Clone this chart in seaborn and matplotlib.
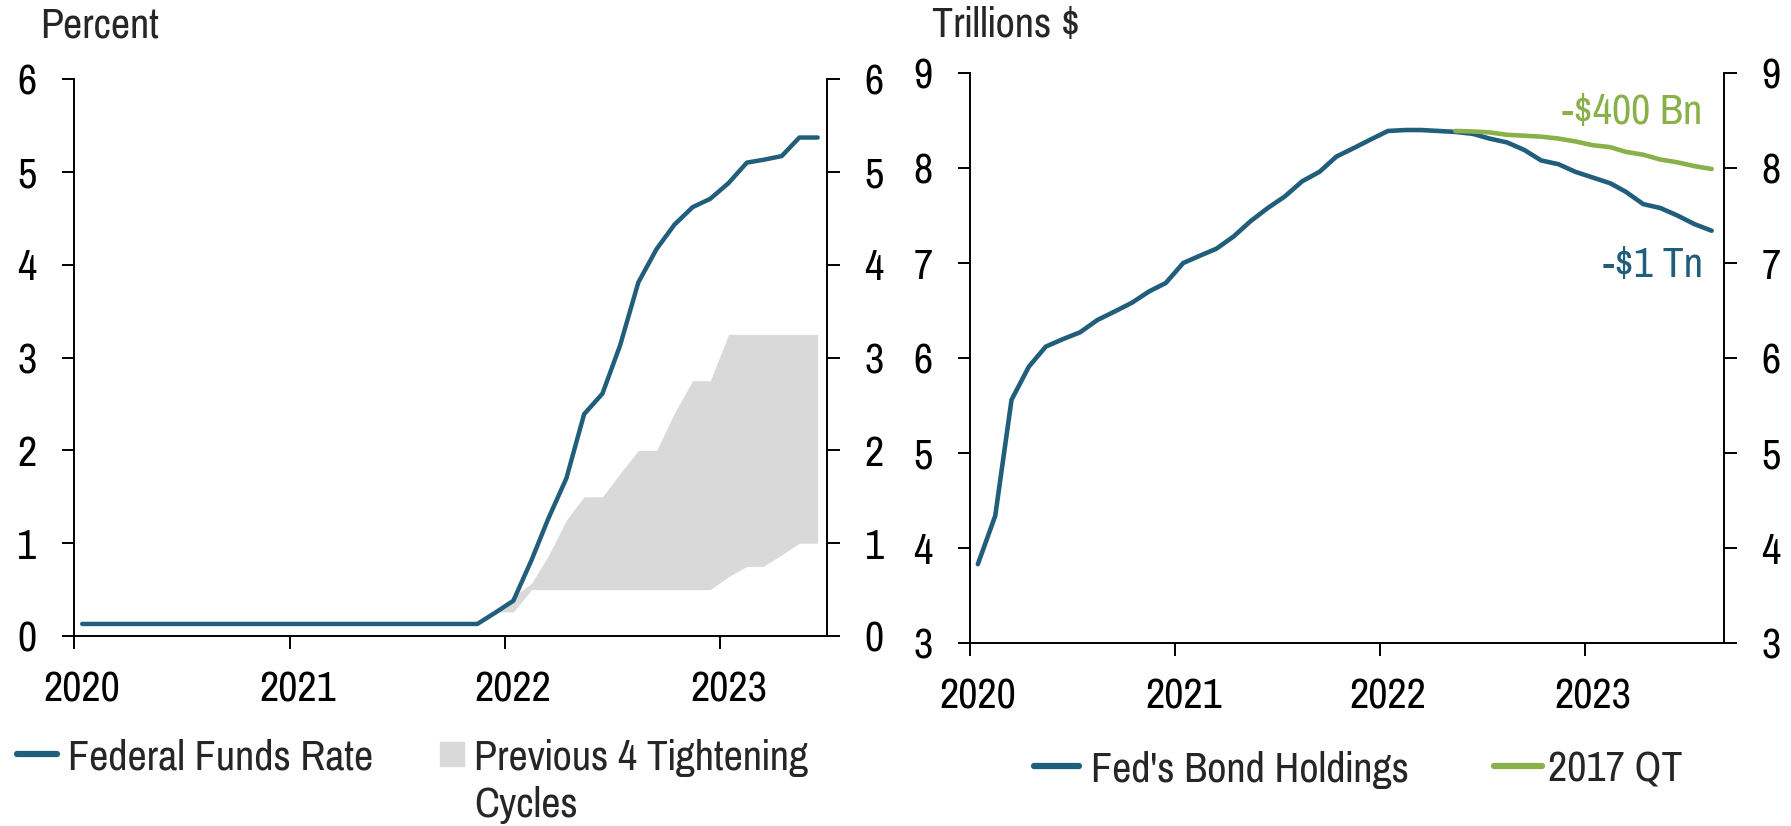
import matplotlib
matplotlib.use("Agg")
import numpy as np
import pandas as pd
import matplotlib.pyplot as plt
from matplotlib.lines import Line2D
from matplotlib.transforms import ScaledTranslation
from matplotlib import font_manager
import seaborn as sns

# ---------------- data ----------------
# Federal funds rate, monthly Jan 2020 - Jun 2023 (percent)
ffr_values = [
    0.13, 0.13, 0.13, 0.13, 0.13, 0.13, 0.13, 0.13, 0.13, 0.13, 0.13, 0.13,
    0.13, 0.13, 0.13, 0.13, 0.13, 0.13, 0.13, 0.13, 0.13, 0.13, 0.13, 0.25,
    0.38, 0.82, 1.26, 1.70, 2.39, 2.61, 3.13, 3.81, 4.17, 4.43, 4.62, 4.71,
    4.88, 5.10, 5.13, 5.17, 5.37, 5.37,
]
# Range of the previous four tightening cycles, Dec 2021 - Jun 2023 (percent)
cycles_low = [0.26, 0.26, 0.50, 0.50, 0.50, 0.50, 0.50, 0.50, 0.50, 0.50,
              0.50, 0.50, 0.50, 0.64, 0.75, 0.75, 0.875, 1.00, 1.00]
cycles_high = [0.26, 0.42, 0.57, 0.86, 1.25, 1.50, 1.50, 1.75, 2.00, 2.00,
               2.40, 2.75, 2.75, 3.25, 3.25, 3.25, 3.25, 3.25, 3.25]

# Fed's bond holdings, monthly Jan 2020 - Aug 2023 (trillions $)
holdings_values = [
    3.83, 4.34, 5.56, 5.91, 6.12, 6.20, 6.27, 6.40, 6.49, 6.58, 6.70, 6.79,
    7.00, 7.08, 7.15, 7.28, 7.44, 7.58, 7.70, 7.86, 7.96, 8.12, 8.21, 8.30,
    8.39, 8.40, 8.40, 8.39, 8.38, 8.36, 8.31, 8.27, 8.19, 8.08, 8.04, 7.96,
    7.90, 7.84, 7.75, 7.62, 7.58, 7.50, 7.41, 7.34,
]
# 2017 QT pace applied from May 2022 - Aug 2023 (trillions $)
qt2017_values = [8.39, 8.385, 8.375, 8.35, 8.34, 8.33, 8.31, 8.28,
                 8.24, 8.22, 8.17, 8.14, 8.09, 8.06, 8.02, 7.99]

year_ticks = [2020, 2021, 2022, 2023]
label_400bn = "-\\$400 Bn"
label_1tn = "-\\$1 Tn"

# ---------------- frames ----------------
def monthly(start, n):
    return pd.date_range(start, periods=n, freq="MS") + pd.Timedelta(days=14)

ffr = pd.DataFrame({"date": monthly("2020-01-01", len(ffr_values)), "rate": ffr_values})
cycles = pd.DataFrame({"date": monthly("2021-12-01", len(cycles_low)),
                       "low": cycles_low, "high": cycles_high})
holdings = pd.DataFrame({"date": monthly("2020-01-01", len(holdings_values)),
                         "value": holdings_values})
qt2017 = pd.DataFrame({"date": monthly("2022-05-01", len(qt2017_values)),
                       "value": qt2017_values})

# ---------------- style ----------------
BLUE = "#215E7C"
GREEN = "#8AB04A"
GRAY = "#D9D9D9"

sns.set_theme(style="ticks")
available = {f.name for f in font_manager.fontManager.ttflist}
narrow_choices = ["Liberation Sans Narrow", "Arial Narrow", "Pragati Narrow",
                  "Roboto Condensed", "Archivo Narrow", "PT Sans Narrow",
                  "Liberation Sans"]
base_font = next(f for f in narrow_choices if f in available)
FS = 33 if base_font != "Liberation Sans" else 25
plt.rcParams["font.family"] = [base_font, "DejaVu Sans"]
plt.rcParams["axes.linewidth"] = 1.4
plt.rcParams["axes.edgecolor"] = "black"

fig = plt.figure(figsize=(17.91, 8.26), dpi=100)
ax1 = fig.add_axes([0.0413, 0.2300, 0.4205, 0.6743])
ax2 = fig.add_axes([0.5416, 0.2215, 0.4210, 0.6901])


def style_axis(ax, ylim, yticks, xlim):
    ax.set_ylim(*ylim)
    ax.set_yticks(yticks)
    ax.set_xlim(pd.Timestamp(xlim[0]), pd.Timestamp(xlim[1]))
    ax.set_xticks([pd.Timestamp(f"{y}-01-01") for y in year_ticks])
    ax.set_xticklabels([str(y) for y in year_ticks])
    ax.set_xlabel("")
    ax.set_ylabel("")
    for side in ["left", "right", "bottom"]:
        ax.spines[side].set_visible(True)
        ax.spines[side].set_linewidth(1.4)
        ax.spines[side].set_color("black")
    ax.spines["top"].set_visible(False)
    ax.tick_params(axis="y", left=True, right=True, labelleft=True, labelright=True,
                   direction="out", length=9, width=1.4, pad=18, labelsize=FS,
                   colors="black")
    ax.tick_params(axis="x", bottom=True, direction="out", length=9, width=1.4,
                   pad=16, labelsize=FS, colors="black")
    shift = ScaledTranslation(8 / 100, 0, fig.dpi_scale_trans)
    for lab in ax.get_xticklabels():
        lab.set_transform(lab.get_transform() + shift)
    ax.grid(False)
    ax.set_facecolor("white")


# ---------------- left panel: policy rate ----------------
ax1.fill_between(cycles["date"], cycles["low"], cycles["high"], color=GRAY,
                 linewidth=0, zorder=1)
sns.lineplot(data=ffr, x="date", y="rate", ax=ax1, color=BLUE, linewidth=3.2,
             solid_capstyle="round", zorder=3, legend=False)
style_axis(ax1, (0, 6), [0, 1, 2, 3, 4, 5, 6], ("2020-01-01", "2023-07-01"))
fig.text(40 / 1791, 1 - 25 / 826, "Percent", fontsize=FS, va="center", ha="left")

# ---------------- right panel: balance sheet ----------------
sns.lineplot(data=holdings, x="date", y="value", ax=ax2, color=BLUE, linewidth=3.3,
             solid_capstyle="round", zorder=3, legend=False)
sns.lineplot(data=qt2017, x="date", y="value", ax=ax2, color=GREEN, linewidth=3.3,
             solid_capstyle="round", zorder=4, legend=False)
style_axis(ax2, (3, 9), [3, 4, 5, 6, 7, 8, 9], ("2020-01-01", "2023-09-06"))
fig.text(932 / 1791, 1 - 25 / 826, "Trillions \\$", fontsize=FS, va="center", ha="left")

last = holdings["date"].iloc[-1]
ax2.annotate(label_400bn, xy=(last, 8.59), xytext=(-6.5, 0), textcoords="offset points",
             ha="right", va="center", color=GREEN, fontsize=FS)
ax2.annotate(label_1tn, xy=(last, 6.98), xytext=(-6.5, 0), textcoords="offset points",
             ha="right", va="center", color=BLUE, fontsize=FS)

# ---------------- legends ----------------
def legend_entry(handle, label, x_px, y_px, hlen_px, pad_px):
    em = FS * 100 / 72
    leg = fig.legend([handle], [label], loc="center left",
                     bbox_to_anchor=(x_px / 1791, 1 - y_px / 826),
                     frameon=False, fontsize=FS, borderpad=0, borderaxespad=0,
                     handlelength=hlen_px / em, handletextpad=pad_px / em)
    return leg

line_blue = Line2D([], [], color=BLUE, lw=4.5, solid_capstyle="round")
line_green = Line2D([], [], color=GREEN, lw=4.5, solid_capstyle="round")
square_gray = Line2D([], [], color=GRAY, marker="s", ls="", markersize=17)

legend_entry(line_blue, "Federal Funds Rate", 17, 757, 40, 11)
legend_entry(square_gray, "Previous 4 Tightening", 432, 757, 40, 2)
fig.text(474 / 1791, 1 - 805 / 826, "Cycles", fontsize=FS, va="center", ha="left")
legend_entry(line_blue, "Fed's Bond Holdings", 1034, 769, 45, 12)
legend_entry(line_green, "2017 QT", 1494, 769, 48, 6)

fig.savefig("out.png", dpi=100, facecolor="white")
